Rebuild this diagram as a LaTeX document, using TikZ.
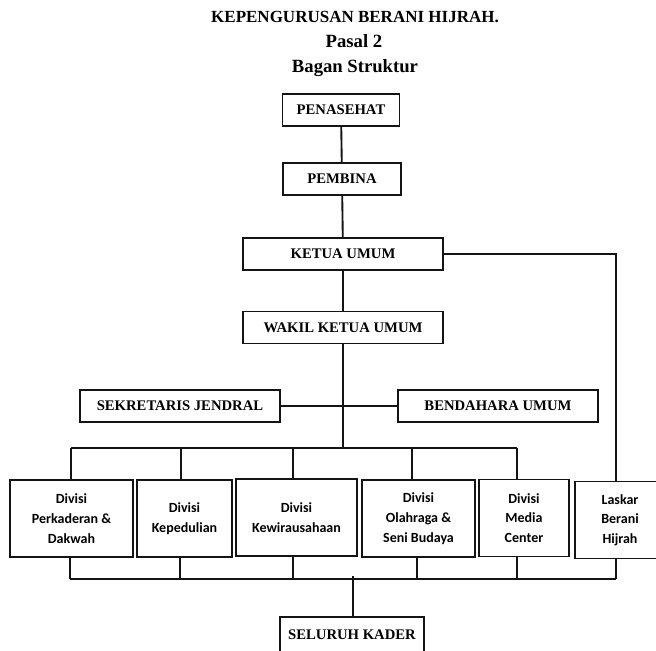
\documentclass[tikz,border=0pt]{standalone}
\usepackage{fontspec}
\setmainfont{Liberation Serif}
\newfontfamily\divfont{Carlito}
\usepackage{tikz}
\definecolor{cstroke}{HTML}{141414}
\tikzset{
  post/.style={draw=cstroke,line width=1.3pt,inner sep=0pt,minimum height=24pt,
    font=\bfseries\fontsize{11}{13}\selectfont},
  divbox/.style={draw=cstroke,line width=1.3pt,inner sep=0pt,minimum height=57.75pt,
    align=center,font=\divfont\bfseries\fontsize{10.5}{14.8}\selectfont},
  link/.style={draw=cstroke,line width=1.4pt},
  heading/.style={anchor=base,font=\bfseries\fontsize{12.75}{15}\selectfont}
}

\begin{document}
\begin{tikzpicture}[x=0.75pt,y=-0.75pt]
\useasboundingbox (0,0) rectangle (656,650);
\clip (0,0) rectangle (656,650);

% ===== heading =====
\node[heading] (head) at (355,22.5) {KEPENGURUSAN BERANI HIJRAH.};
\node[heading,font=\bfseries\fontsize{14}{16}\selectfont] (pasal) at (354,47.5) {Pasal 2};
\node[heading,font=\bfseries\fontsize{14}{16}\selectfont] (bagan) at (355,72.5) {Bagan Struktur};

% ===== top of the chart =====
\node[post,minimum width=87.75pt] (pen) at (341,110) {PENASEHAT};
\node[post,minimum width=88.5pt] (pem) at (342,179) {PEMBINA};
\node[post,minimum width=150pt] (ket) at (343,254) {KETUA UMUM};
\node[post,minimum width=150pt] (wak) at (343,327.5) {WAKIL KETUA UMUM};
\node[post,minimum width=150pt] (sek) at (180,406) {SEKRETARIS JENDRAL};
\node[post,minimum width=150pt] (ben) at (498,406) {BENDAHARA UMUM};

\draw[link] (pen) -- (pem);
\draw[link] (pem) -- (ket);
\draw[link] (ket) -- (wak);
\draw[link] (sek.east) -- (ben.west);

% ===== divisions =====
\node[divbox,minimum width=92.25pt] (b1) at (71.5,518.5) {Divisi\\Perkaderan \&\\Dakwah};
\node[divbox,minimum width=71.25pt] (b2) at (184.5,518.5) {Divisi\\Kepedulian};
\node[divbox,minimum width=90.75pt] (b3) at (296.5,517.5) {Divisi\\Kewirausahaan};
\node[divbox,minimum width=84.75pt] (b4) at (418.5,518.5) {Divisi\\Olahraga \&\\Seni Budaya};
\node[divbox,minimum width=67.5pt] (b5) at (524,518) {Divisi\\Media\\Center};
\node[divbox,minimum width=67.5pt] (las) at (620,520) {Laskar\\Berani\\Hijrah};

\coordinate (u1) at (71,448);
\coordinate (u2) at (181,448);
\coordinate (u3) at (293,448);
\coordinate (u4) at (412,448);
\coordinate (u5) at (517,448);
\draw[link] (u1) -- (u5);
\draw[link] (wak) -- (wak |- u1);
\foreach \n in {1,...,5}
  \draw[link] (u\n) -- (u\n |- b\n.north);

% line from the chairman to the Laskar
\coordinate (rt) at (616,254);
\draw[link] (ket.east) -- (rt) -- (rt |- las.north);

% ===== bottom: all members =====
\coordinate (d1) at (70,579);
\coordinate (d2) at (180,579);
\coordinate (d3) at (293,579);
\coordinate (d4) at (417,579);
\coordinate (d5) at (517,579);
\coordinate (d6) at (616,579);
\draw[link] (d1) -- (d6);
\foreach \n in {1,...,5}
  \draw[link] (d\n |- b\n.south) -- (d\n);
\draw[link] (d6 |- las.south) -- (d6);

\node[post,minimum width=108pt,minimum height=27pt] (sel) at (352,635) {SELURUH KADER};
\coordinate (kd) at (353,576);
\draw[link] (kd) -- (kd |- sel.north);

\end{tikzpicture}
\end{document}
